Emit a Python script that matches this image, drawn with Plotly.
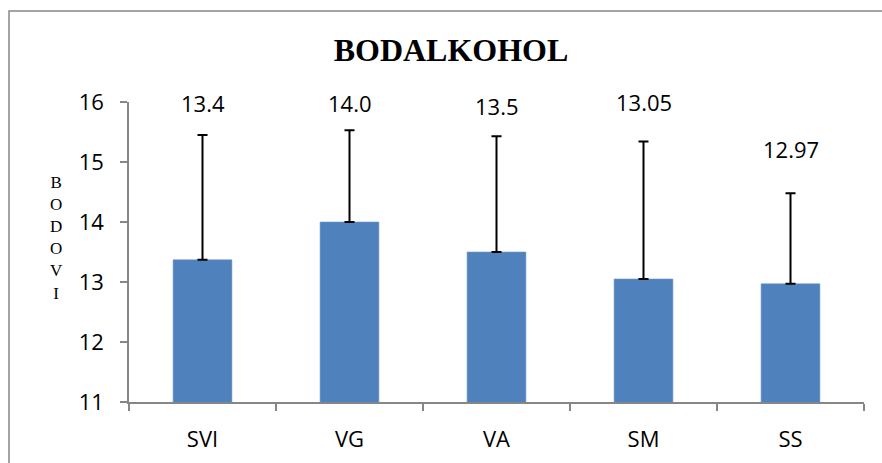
import plotly.graph_objects as go

categories = ["SVI", "VG", "VA", "SM", "SS"]
means = [13.37, 14.0, 13.5, 13.05, 12.97]
errors_up = [2.08, 1.53, 1.93, 2.29, 1.51]
value_labels = ["13.4", "14.0", "13.5", "13.05", "12.97"]
label_y = [16.27, 16.27, 16.22, 16.28, 15.5]
y_ticks = [11, 12, 13, 14, 15, 16]
y_min, y_max = 11, 16

AXIS = "#868686"
BAR = "#4F81BD"

W, H = 882, 463
L, T = 129, 102
PW, PH = 735, 300
R, B = W - L - PW, H - T - PH

fig = go.Figure()
fig.add_trace(go.Bar(
    x=categories, y=means, width=0.4,
    marker=dict(color=BAR, line=dict(color="#6F97CB", width=0.6)),
    error_y=dict(type="data", symmetric=False, array=errors_up,
                 arrayminus=[0] * len(means), color="black",
                 thickness=2, width=5),
    showlegend=False,
))

for c, t, yy in zip(categories, value_labels, label_y):
    fig.add_annotation(x=c, y=(yy - y_min) / (y_max - y_min), text=t,
                       showarrow=False, xref="x", yref="paper",
                       font=dict(family="Open Sans", size=22, color="black"))

fig.add_annotation(text="B<br>O<br>D<br>O<br>V<br>I", showarrow=False,
                   xref="paper", yref="paper",
                   x=(56 - L) / PW, y=(T + PH - 238) / PH,
                   xanchor="center", yanchor="middle",
                   font=dict(family="Liberation Serif", size=17, color="black"))

# outer frame (extends past right and bottom edges)
fig.add_shape(type="rect", xref="paper", yref="paper",
              x0=(9 - L) / PW, x1=(W + 20 - L) / PW,
              y0=(T + PH - (H + 20)) / PH, y1=(T + PH - 11) / PH,
              line=dict(color=AXIS, width=1.5), layer="below")

fig.update_layout(
    width=W, height=H,
    margin=dict(l=L, r=R, t=T, b=B, autoexpand=False),
    paper_bgcolor="white", plot_bgcolor="white",
    title=dict(text="<b>BODALKOHOL</b>", xref="container", yref="container",
               x=451 / W, y=1 - 50 / H, xanchor="center", yanchor="middle",
               font=dict(family="Liberation Serif", size=32, color="black")),
    xaxis=dict(showline=True, linecolor=AXIS, linewidth=1.5, automargin=False,
               ticks="outside", tickson="boundaries", ticklen=7,
               tickcolor=AXIS, tickwidth=1.5, showgrid=False,
               ticklabelstandoff=17,
               tickfont=dict(family="Open Sans", size=22, color="black")),
    yaxis=dict(range=[y_min, y_max], tickvals=y_ticks, showline=True,
               automargin=False,
               linecolor=AXIS, linewidth=1.5, ticks="outside", ticklen=7,
               tickcolor=AXIS, tickwidth=1.5, showgrid=False, zeroline=False,
               ticklabelstandoff=12,
               tickfont=dict(family="Open Sans", size=22, color="black")),
)

fig.write_html(
    "out.html",
    config={"displayModeBar": False},
    post_script="document.body.style.margin='0';"
                "document.body.style.overflow='hidden';",
)
